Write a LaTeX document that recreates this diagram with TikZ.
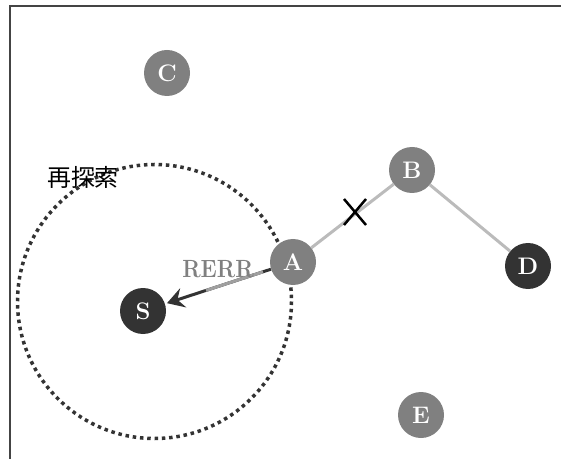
\documentclass[tikz,border=0pt]{standalone}
\usepackage{fontspec}
\newfontfamily\cjk{Noto Sans CJK JP}
\usetikzlibrary{calc,arrows.meta}
\definecolor{nodegray}{HTML}{808080}
\definecolor{nodedark}{HTML}{333333}
\definecolor{linkgray}{HTML}{BBBBBB}
\definecolor{framegray}{HTML}{444444}
\tikzset{
  hostlight/.style={circle,fill=nodegray,text=white,minimum size=46bp,inner sep=0pt,font=\fontsize{24}{24}\selectfont\bfseries},
  hostdark/.style={hostlight,fill=nodedark},
  link/.style={draw=linkgray,line width=3bp},
}
\begin{document}
\begin{tikzpicture}[x=1bp,y=-1bp]
\useasboundingbox (0,0) rectangle (561,459);
\draw[framegray,line width=2bp] (10,459) -- (10,6) -- (561,6);
% search circle
\draw[nodedark,line width=3.5bp,dash pattern=on 3.5bp off 3.8bp] (154.5,301.5) circle[radius=137];
\node[font=\cjk\fontsize{24}{24}\selectfont] (lbl) at (83,177) {再探索};
% nodes
\node[hostlight] (C) at (167,73) {C};
\node[hostlight] (B) at (412,170) {B};
\node[hostlight] (A) at (293,262) {A};
\node[hostdark] (D) at (528,266) {D};
\node[hostdark] (S) at (143,311) {S};
\node[hostlight] (E) at (421,415) {E};
% links
\draw[link] (A) -- (B);
\draw[link] (B) -- (D);
% break mark
\coordinate (X) at (355,212);
\draw[black,line width=2.5bp] ($(X)+(-11,-13)$) -- ($(X)+(11,13)$) ($(X)+(11,-13)$) -- ($(X)+(-11,13)$);
% RERR arrow
\draw[nodedark,line width=3bp,-{Stealth[length=17bp,width=20bp,inset=6bp]},shorten >=2bp] (A) -- (S);
\draw[color=gray!75,line width=3bp] ($(A)!0.2!(S)$) -- ($(A)!0.58!(S)$);
\node[text=nodegray,font=\fontsize{25}{25}\selectfont\bfseries,xscale=0.88,transform shape] (rerr) at (218,269) {RERR};
\end{tikzpicture}
\end{document}
